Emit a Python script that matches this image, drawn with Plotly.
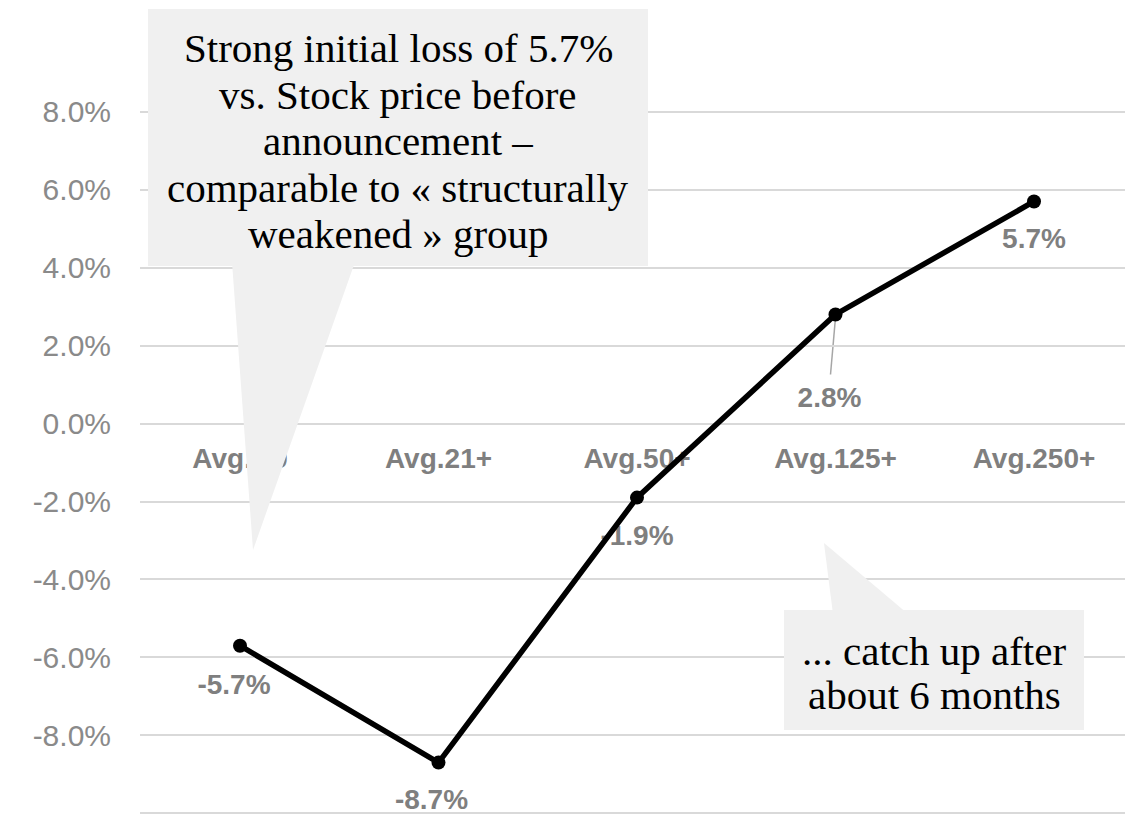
import plotly.graph_objects as go

# Average abnormal stock return after announcement, by holding window
categories = ["Avg.D0", "Avg.21+", "Avg.50+", "Avg.125+", "Avg.250+"]
returns_pct = [-5.7, -8.7, -1.9, 2.8, 5.7]
y_ticks = [-10, -8, -6, -4, -2, 0, 2, 4, 6, 8]

callout_top = [
    "Strong initial loss of 5.7%",
    "vs. Stock price before",
    "announcement \u2013",
    "comparable to \u00ab structurally",
    "weakened \u00bb group",
]
callout_bottom = ["... catch up after", "about 6 months"]

# ---- geometry of the plotting area (pixels) ----
W, H = 1125, 828
M_L, M_R, M_T, M_B = 140, 0, 106, 5
PW, PH = W - M_L - M_R, H - M_T - M_B
BAND = 198.5                       # width of one category slot in px
X0 = -(240 - M_L) / BAND
X1 = X0 + PW / BAND
Y0, Y1 = -10.25, 8.15
PPU = PH / (Y1 - Y0)               # px per percentage point


def fx(px):
    return (px - M_L) / PW


def fy(py):
    return (M_T + PH - py) / PH


xs = list(range(len(categories)))

# label offsets below each point (px) and small horizontal nudges (px)
lab_dy = [41, 39, 40, 86, 40]
lab_dx = [-6, -7, 0, -6, 0]
lab_x = [x + dx / BAND for x, dx in zip(xs, lab_dx)]
lab_y = [v - d / PPU for v, d in zip(returns_pct, lab_dy)]
lab_txt = [f"{v:.1f}%" for v in returns_pct]

GREY_TXT = "#7f7f7f"
BOX = "#f0f0f0"
SANS = "Liberation Sans, Arial, sans-serif"
SERIF = "Liberation Serif, Times New Roman, serif"

fig = go.Figure()

fig.add_trace(go.Scatter(
    x=lab_x, y=lab_y, text=lab_txt, mode="text",
    textposition="middle center",
    textfont=dict(family=SANS, size=28, color=GREY_TXT, weight="bold"),
    cliponaxis=False, hoverinfo="skip", showlegend=False,
))

fig.add_trace(go.Scatter(
    x=xs, y=returns_pct, mode="lines+markers",
    line=dict(color="#000000", width=5.5),
    marker=dict(color="#000000", size=14),
    cliponaxis=False, showlegend=False,
))

shapes = []
# leader line from the 2.8% point to its label
shapes.append(dict(
    type="line", xref="x", yref="y", layer="below",
    x0=3, y0=returns_pct[3] - 3 / PPU,
    x1=3 - 5 / BAND, y1=returns_pct[3] - 60 / PPU,
    line=dict(color="#a6a6a6", width=1.5),
))

# upper callout: box + pointer
shapes.append(dict(
    type="rect", xref="paper", yref="paper", layer="above",
    x0=fx(148), x1=fx(648), y0=fy(266), y1=fy(9),
    fillcolor=BOX, line=dict(width=0),
))
shapes.append(dict(
    type="path", xref="paper", yref="paper", layer="above",
    path=(f"M {fx(232)} {fy(262)} L {fx(355)} {fy(262)} "
          f"L {fx(253)} {fy(550)} Z"),
    fillcolor=BOX, line=dict(width=0),
))

# lower callout: box + pointer
shapes.append(dict(
    type="rect", xref="paper", yref="paper", layer="above",
    x0=fx(784), x1=fx(1084), y0=fy(730), y1=fy(610),
    fillcolor=BOX, line=dict(width=0),
))
shapes.append(dict(
    type="path", xref="paper", yref="paper", layer="above",
    path=(f"M {fx(833)} {fy(614)} L {fx(908)} {fy(614)} "
          f"L {fx(824)} {fy(543)} Z"),
    fillcolor=BOX, line=dict(width=0),
))

annotations = []
SERIF_SIZE = 41
for line, mid in zip(callout_top, [48, 94.5, 141, 187.5, 234]):
    annotations.append(dict(
        text=line, xref="paper", yref="paper",
        x=fx(398), y=fy(mid), xanchor="center", yanchor="middle",
        showarrow=False, font=dict(family=SERIF, size=SERIF_SIZE, color="#000000"),
    ))
for line, mid in zip(callout_bottom, [651, 695]):
    annotations.append(dict(
        text=line, xref="paper", yref="paper",
        x=fx(934), y=fy(mid), xanchor="center", yanchor="middle",
        showarrow=False, font=dict(family=SERIF, size=SERIF_SIZE, color="#000000"),
    ))

fig.update_layout(
    width=W, height=H,
    margin=dict(l=M_L, r=M_R, t=M_T, b=M_B, pad=0),
    paper_bgcolor="#ffffff", plot_bgcolor="#ffffff",
    shapes=shapes, annotations=annotations,
    xaxis=dict(
        range=[X0, X1], tickvals=xs, ticktext=categories,
        showgrid=False, zeroline=False, showline=False, ticks="",
        anchor="free", position=(0 - Y0) / (Y1 - Y0),
        layer="below traces", ticklabelstandoff=15,
        tickfont=dict(family=SANS, size=28, color=GREY_TXT, weight="bold"),
    ),
    yaxis=dict(
        range=[Y0, Y1], tickvals=y_ticks,
        ticktext=[f"{v:.1f}%" for v in y_ticks],
        showgrid=True, gridcolor="#d9d9d9", gridwidth=1.5,
        zeroline=False, showline=False, ticks="",
        ticklabelstandoff=28,
        tickfont=dict(family=SANS, size=30, color="#8a8a8a"),
    ),
)

fig.write_html("out.html")
